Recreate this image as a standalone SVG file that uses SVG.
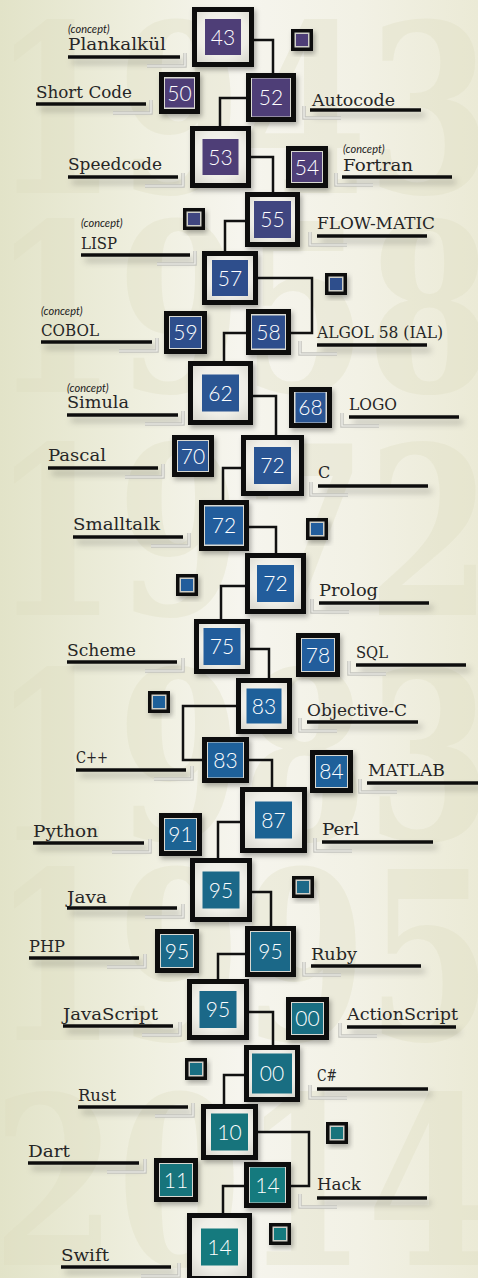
<svg xmlns="http://www.w3.org/2000/svg" width="478" height="1278" viewBox="0 0 478 1278">
<defs>
<linearGradient id="bg" x1="0" y1="0" x2="1" y2="0">
<stop offset="0" stop-color="#e2e3c8"/>
<stop offset="0.3" stop-color="#efefdf"/>
<stop offset="0.5" stop-color="#f6f5ee"/>
<stop offset="0.75" stop-color="#f2f1e5"/>
<stop offset="1" stop-color="#ebead6"/>
</linearGradient>
<radialGradient id="mat" cx="0.5" cy="0.45" r="0.7">
<stop offset="0" stop-color="#f8f7f2"/>
<stop offset="0.6" stop-color="#efeee7"/>
<stop offset="1" stop-color="#d6d5cc"/>
</radialGradient>
<filter id="nshadow" x="-30%" y="-30%" width="170%" height="170%">
<feDropShadow dx="2" dy="3" stdDeviation="2.5" flood-color="#000" flood-opacity="0.3"/>
</filter>
<filter id="lshadow" filterUnits="userSpaceOnUse" x="0" y="0" width="478" height="1278">
<feDropShadow dx="4" dy="5" stdDeviation="3" flood-color="#000" flood-opacity="0.28"/>
</filter>
<style>
.year{font-family:"DejaVu Serif",serif;font-weight:bold;font-size:235px;fill:#dddcbf;opacity:0.32}
.frame{fill:url(#mat);stroke:#0c0c0c;stroke-width:5;filter:url(#nshadow)}
.fframe{fill:#d9d9d2;stroke:#0c0c0c;stroke-width:5;filter:url(#nshadow)}
.tframe{fill:#cfcfc8;stroke:#0c0c0c;stroke-width:3.5;filter:url(#nshadow)}
.num{font-family:Lato,"Open Sans",sans-serif;font-weight:300;font-size:21px;fill:#ffffff;text-anchor:middle}
.lbl{font-family:"DejaVu Serif",serif;font-size:16px;fill:#262626}
.cpt{font-family:Lato,"Open Sans",sans-serif;font-style:italic;font-size:11px;fill:#1b1b1b}
.ul{fill:#0a0a0a;filter:url(#lshadow)}
.br{fill:none;stroke:#c4c4be;stroke-width:3.5}
.bri{fill:none;stroke:#f3f3ee;stroke-width:1.2}
.conn{fill:none;stroke:#111111;stroke-width:2.5}
.p1{fill:#4e3e77}.p2{fill:#404680}.b1{fill:#2e4e8c}.b2{fill:#2a5593}.b3{fill:#225d9c}.b4{fill:#1e609a}.b5{fill:#1c6393}.t1{fill:#1b6888}.t2{fill:#196e82}.t3{fill:#17747c}.t4{fill:#157a7e}
</style>
</defs>
<rect x="0" y="0" width="478" height="1278" fill="url(#bg)"/>
<g id="bg-years">
<text class="year" x="-8" y="193" textLength="500" lengthAdjust="spacingAndGlyphs">1943</text>
<text class="year" x="-8" y="392" textLength="500" lengthAdjust="spacingAndGlyphs">1958</text>
<text class="year" x="-8" y="615" textLength="500" lengthAdjust="spacingAndGlyphs">1972</text>
<text class="year" x="-8" y="840" textLength="500" lengthAdjust="spacingAndGlyphs">1983</text>
<text class="year" x="-8" y="1040" textLength="500" lengthAdjust="spacingAndGlyphs">1995</text>
<text class="year" x="-8" y="1265" textLength="500" lengthAdjust="spacingAndGlyphs">2014</text>
</g>
<g id="labels">
<g id="l-plankalkul"><text class="cpt" x="68" y="33">(concept)</text><text class="lbl" x="68" y="50" textLength="98" lengthAdjust="spacingAndGlyphs">Plankalkül</text><rect class="ul" x="68" y="55.25" width="112" height="3.5"/><path class="br" d="M185,53V66H147"/><path class="bri" d="M185,53V66H147"/></g>
<g id="l-shortcode"><text class="lbl" x="36" y="98" textLength="96" lengthAdjust="spacingAndGlyphs">Short Code</text><rect class="ul" x="36" y="102.25" width="110" height="3.5"/><path class="br" d="M151,100V113H113"/><path class="bri" d="M151,100V113H113"/></g>
<g id="l-speedcode"><text class="lbl" x="68" y="170" textLength="94" lengthAdjust="spacingAndGlyphs">Speedcode</text><rect class="ul" x="68" y="175.25" width="110" height="3.5"/><path class="br" d="M183,173V186H145"/><path class="bri" d="M183,173V186H145"/></g>
<g id="l-lisp"><text class="cpt" x="81" y="227">(concept)</text><text class="lbl" x="81" y="249" textLength="36" lengthAdjust="spacingAndGlyphs">LISP</text><rect class="ul" x="81" y="253.25" width="109" height="3.5"/><path class="br" d="M195,251V264H157"/><path class="bri" d="M195,251V264H157"/></g>
<g id="l-cobol"><text class="cpt" x="41" y="315">(concept)</text><text class="lbl" x="41" y="336" textLength="58" lengthAdjust="spacingAndGlyphs">COBOL</text><rect class="ul" x="41" y="340.25" width="111" height="3.5"/><path class="br" d="M157,338V351H119"/><path class="bri" d="M157,338V351H119"/></g>
<g id="l-simula"><text class="cpt" x="67" y="392">(concept)</text><text class="lbl" x="67" y="408" textLength="62" lengthAdjust="spacingAndGlyphs">Simula</text><rect class="ul" x="67" y="413.25" width="111" height="3.5"/><path class="br" d="M183,411V424H145"/><path class="bri" d="M183,411V424H145"/></g>
<g id="l-pascal"><text class="lbl" x="48" y="461" textLength="58" lengthAdjust="spacingAndGlyphs">Pascal</text><rect class="ul" x="48" y="466.25" width="110" height="3.5"/><path class="br" d="M163,464V477H125"/><path class="bri" d="M163,464V477H125"/></g>
<g id="l-smalltalk"><text class="lbl" x="73" y="530" textLength="87" lengthAdjust="spacingAndGlyphs">Smalltalk</text><rect class="ul" x="73" y="535.25" width="110" height="3.5"/><path class="br" d="M189,533V546H151"/><path class="bri" d="M189,533V546H151"/></g>
<g id="l-scheme"><text class="lbl" x="67" y="656" textLength="69" lengthAdjust="spacingAndGlyphs">Scheme</text><rect class="ul" x="67" y="660.25" width="110" height="3.5"/><path class="br" d="M183,658V671H145"/><path class="bri" d="M183,658V671H145"/></g>
<g id="l-cpp"><text class="lbl" x="76" y="763" textLength="32" lengthAdjust="spacingAndGlyphs">C++</text><rect class="ul" x="76" y="768.25" width="110" height="3.5"/><path class="br" d="M192,766V779H154"/><path class="bri" d="M192,766V779H154"/></g>
<g id="l-python"><text class="lbl" x="33" y="837" textLength="65" lengthAdjust="spacingAndGlyphs">Python</text><rect class="ul" x="33" y="841.25" width="111" height="3.5"/><path class="br" d="M150,839V852H112"/><path class="bri" d="M150,839V852H112"/></g>
<g id="l-java"><text class="lbl" x="67" y="903" textLength="40" lengthAdjust="spacingAndGlyphs">Java</text><rect class="ul" x="67" y="906.25" width="110" height="3.5"/><path class="br" d="M183,904V917H145"/><path class="bri" d="M183,904V917H145"/></g>
<g id="l-php"><text class="lbl" x="29" y="952" textLength="36" lengthAdjust="spacingAndGlyphs">PHP</text><rect class="ul" x="29" y="956.25" width="110" height="3.5"/><path class="br" d="M145,954V967H107"/><path class="bri" d="M145,954V967H107"/></g>
<g id="l-javascript"><text class="lbl" x="63" y="1020" textLength="95" lengthAdjust="spacingAndGlyphs">JavaScript</text><rect class="ul" x="63" y="1024.25" width="110" height="3.5"/><path class="br" d="M180,1022V1035H142"/><path class="bri" d="M180,1022V1035H142"/></g>
<g id="l-rust"><text class="lbl" x="78" y="1101" textLength="38" lengthAdjust="spacingAndGlyphs">Rust</text><rect class="ul" x="78" y="1105.25" width="110" height="3.5"/><path class="br" d="M193,1103V1116H155"/><path class="bri" d="M193,1103V1116H155"/></g>
<g id="l-dart"><text class="lbl" x="28" y="1157" textLength="42" lengthAdjust="spacingAndGlyphs">Dart</text><rect class="ul" x="28" y="1161.25" width="111" height="3.5"/><path class="br" d="M145,1159V1172H107"/><path class="bri" d="M145,1159V1172H107"/></g>
<g id="l-swift"><text class="lbl" x="61" y="1261" textLength="48" lengthAdjust="spacingAndGlyphs">Swift</text><rect class="ul" x="61" y="1265.25" width="110" height="3.5"/><path class="br" d="M179,1263V1276H141"/><path class="bri" d="M179,1263V1276H141"/></g>
<g id="l-autocode"><text class="lbl" x="312" y="106" textLength="83" lengthAdjust="spacingAndGlyphs">Autocode</text><rect class="ul" x="310" y="108.25" width="111" height="3.5"/><path class="br" d="M304,106V118H341"/><path class="bri" d="M304,106V118H341"/></g>
<g id="l-fortran"><text class="cpt" x="343" y="153">(concept)</text><text class="lbl" x="343" y="171" textLength="70" lengthAdjust="spacingAndGlyphs">Fortran</text><rect class="ul" x="342" y="175.25" width="110" height="3.5"/><path class="br" d="M336,173V185H373"/><path class="bri" d="M336,173V185H373"/></g>
<g id="l-flowmatic"><text class="lbl" x="317" y="229" textLength="118" lengthAdjust="spacingAndGlyphs">FLOW-MATIC</text><rect class="ul" x="317" y="234.25" width="110" height="3.5"/><path class="br" d="M310,232V245H347"/><path class="bri" d="M310,232V245H347"/></g>
<g id="l-algol"><text class="lbl" x="317" y="338" textLength="126" lengthAdjust="spacingAndGlyphs">ALGOL 58 (IAL)</text><rect class="ul" x="317" y="343.25" width="110" height="3.5"/><path class="br" d="M300,341V354H337"/><path class="bri" d="M300,341V354H337"/></g>
<g id="l-logo"><text class="lbl" x="349" y="410" textLength="48" lengthAdjust="spacingAndGlyphs">LOGO</text><rect class="ul" x="349" y="415.25" width="110" height="3.5"/><path class="br" d="M342,413V426H379"/><path class="bri" d="M342,413V426H379"/></g>
<g id="l-c"><text class="lbl" x="318" y="478">C</text><rect class="ul" x="318" y="484.25" width="110" height="3.5"/><path class="br" d="M311,482V495H348"/><path class="bri" d="M311,482V495H348"/></g>
<g id="l-prolog"><text class="lbl" x="319" y="596" textLength="59" lengthAdjust="spacingAndGlyphs">Prolog</text><rect class="ul" x="319" y="601.25" width="110" height="3.5"/><path class="br" d="M312,599V612H349"/><path class="bri" d="M312,599V612H349"/></g>
<g id="l-sql"><text class="lbl" x="356" y="658" textLength="32" lengthAdjust="spacingAndGlyphs">SQL</text><rect class="ul" x="356" y="663.25" width="110" height="3.5"/><path class="br" d="M349,661V674H386"/><path class="bri" d="M349,661V674H386"/></g>
<g id="l-objc"><text class="lbl" x="307" y="716" textLength="100" lengthAdjust="spacingAndGlyphs">Objective-C</text><rect class="ul" x="307" y="720.25" width="111" height="3.5"/><path class="br" d="M300,718V731H337"/><path class="bri" d="M300,718V731H337"/></g>
<g id="l-matlab"><text class="lbl" x="368" y="776" textLength="77" lengthAdjust="spacingAndGlyphs">MATLAB</text><rect class="ul" x="367" y="781.25" width="111" height="3.5"/><path class="br" d="M360,779V792H397"/><path class="bri" d="M360,779V792H397"/></g>
<g id="l-perl"><text class="lbl" x="322" y="835" textLength="37" lengthAdjust="spacingAndGlyphs">Perl</text><rect class="ul" x="322" y="840.25" width="111" height="3.5"/><path class="br" d="M315,838V851H352"/><path class="bri" d="M315,838V851H352"/></g>
<g id="l-ruby"><text class="lbl" x="311" y="960" textLength="46" lengthAdjust="spacingAndGlyphs">Ruby</text><rect class="ul" x="311" y="964.25" width="110" height="3.5"/><path class="br" d="M304,962V975H341"/><path class="bri" d="M304,962V975H341"/></g>
<g id="l-actionscript"><text class="lbl" x="347" y="1020" textLength="111" lengthAdjust="spacingAndGlyphs">ActionScript</text><rect class="ul" x="347" y="1025.25" width="109" height="3.5"/><path class="br" d="M340,1023V1036H377"/><path class="bri" d="M340,1023V1036H377"/></g>
<g id="l-csharp"><text class="lbl" x="317" y="1081" textLength="20" lengthAdjust="spacingAndGlyphs">C#</text><rect class="ul" x="317" y="1087.25" width="111" height="3.5"/><path class="br" d="M310,1085V1098H347"/><path class="bri" d="M310,1085V1098H347"/></g>
<g id="l-hack"><text class="lbl" x="317" y="1190" textLength="44" lengthAdjust="spacingAndGlyphs">Hack</text><rect class="ul" x="317" y="1196.25" width="110" height="3.5"/><path class="br" d="M300,1194V1207H337"/><path class="bri" d="M300,1194V1207H337"/></g>
</g>
<g id="connectors">
<polyline class="conn" points="254,40 273,40 273,73"/>
<polyline class="conn" points="246,98 220,98 220,126"/>
<polyline class="conn" points="251,157 273,157 273,192"/>
<polyline class="conn" points="245,221 225,221 225,251"/>
<polyline class="conn" points="258,278 312,278 312,333 291,333"/>
<polyline class="conn" points="246,333 224,333 224,361"/>
<polyline class="conn" points="253,396 276,396 276,435"/>
<polyline class="conn" points="241,468 223,468 223,500"/>
<polyline class="conn" points="249,527 276,527 276,553"/>
<polyline class="conn" points="245,586 221,586 221,619"/>
<polyline class="conn" points="250,649 269,649 269,678"/>
<polyline class="conn" points="236,706 183,706 183,760 202,760"/>
<polyline class="conn" points="249,760 272,760 272,787"/>
<polyline class="conn" points="240,822 218,822 218,858"/>
<polyline class="conn" points="252,892 271,892 271,926"/>
<polyline class="conn" points="245,954 218,954 218,979"/>
<polyline class="conn" points="249,1012 273,1012 273,1045"/>
<polyline class="conn" points="244,1075 224,1075 224,1104"/>
<polyline class="conn" points="258,1132 309,1132 309,1186 291,1186"/>
<polyline class="conn" points="244,1186 223,1186 223,1213"/>
</g>
<g id="n43"><rect class="frame" x="194.5" y="9.5" width="57" height="55"/><rect class="p1" x="205" y="19" width="36" height="36"/><text class="num" x="223" y="44.5">43</text></g>
<g id="n50"><rect class="fframe" x="161.5" y="74.5" width="36" height="37"/><rect class="p1" x="165" y="78.5" width="29" height="29"/><text class="num" x="179.5" y="100.5">50</text></g>
<g id="n52"><rect class="fframe" x="248.5" y="75.5" width="45" height="44"/><rect class="p1" x="252" y="78.5" width="38" height="38"/><text class="num" x="271" y="105">52</text></g>
<g id="n53"><rect class="frame" x="192.5" y="128.5" width="56" height="57"/><rect class="p1" x="202.5" y="139" width="36" height="36"/><text class="num" x="220.5" y="164.5">53</text></g>
<g id="n54"><rect class="fframe" x="288.5" y="148.5" width="37" height="37"/><rect class="p1" x="292" y="152" width="30" height="30"/><text class="num" x="307" y="174.5">54</text></g>
<g id="n55"><rect class="frame" x="247.5" y="194.5" width="50" height="50"/><rect class="p2" x="254" y="201" width="37" height="37"/><text class="num" x="272.5" y="227">55</text></g>
<g id="n57"><rect class="frame" x="204.5" y="253.5" width="51" height="49"/><rect class="b1" x="212" y="260" width="36" height="36"/><text class="num" x="230" y="285.5">57</text></g>
<g id="n58"><rect class="fframe" x="248.5" y="311.5" width="40" height="41"/><rect class="b1" x="252" y="315.5" width="33" height="33"/><text class="num" x="268.5" y="339.5">58</text></g>
<g id="n59"><rect class="fframe" x="166.5" y="313.5" width="38" height="38"/><rect class="b1" x="170" y="317" width="31" height="31"/><text class="num" x="185.5" y="340">59</text></g>
<g id="n62"><rect class="frame" x="190.5" y="363.5" width="60" height="59"/><rect class="b2" x="202" y="374.5" width="37" height="37"/><text class="num" x="220.5" y="400.5">62</text></g>
<g id="n68"><rect class="fframe" x="291.5" y="389.5" width="38" height="36"/><rect class="b2" x="295.5" y="392.5" width="30" height="30"/><text class="num" x="310.5" y="415">68</text></g>
<g id="n70"><rect class="fframe" x="174.5" y="437.5" width="37" height="37"/><rect class="b2" x="178" y="441" width="30" height="30"/><text class="num" x="193" y="463.5">70</text></g>
<g id="n72-c"><rect class="frame" x="243.5" y="437.5" width="58" height="56"/><rect class="b2" x="254" y="447" width="37" height="37"/><text class="num" x="272.5" y="473">72</text></g>
<g id="n72-smalltalk"><rect class="fframe" x="201.5" y="502.5" width="45" height="46"/><rect class="b3" x="205" y="506.5" width="38" height="38"/><text class="num" x="224" y="533">72</text></g>
<g id="n72-prolog"><rect class="frame" x="247.5" y="555.5" width="56" height="56"/><rect class="b3" x="257" y="565" width="37" height="37"/><text class="num" x="275.5" y="591">72</text></g>
<g id="n75"><rect class="frame" x="196.5" y="621.5" width="51" height="50"/><rect class="b3" x="203.5" y="628" width="37" height="37"/><text class="num" x="222" y="654">75</text></g>
<g id="n78"><rect class="fframe" x="298.5" y="635.5" width="39" height="39"/><rect class="b3" x="302" y="639" width="32" height="32"/><text class="num" x="318" y="662.5">78</text></g>
<g id="n83-objc"><rect class="frame" x="238.5" y="680.5" width="51" height="51"/><rect class="b4" x="246.5" y="688.5" width="35" height="35"/><text class="num" x="264" y="713.5">83</text></g>
<g id="n83-cpp"><rect class="fframe" x="204.5" y="739.5" width="42" height="41"/><rect class="b4" x="208" y="742.5" width="35" height="35"/><text class="num" x="225.5" y="767.5">83</text></g>
<g id="n84"><rect class="fframe" x="312.5" y="752.5" width="38" height="38"/><rect class="b4" x="316" y="756" width="31" height="31"/><text class="num" x="331.5" y="779">84</text></g>
<g id="n87"><rect class="frame" x="242.5" y="789.5" width="62" height="61"/><rect class="b5" x="255" y="801.5" width="37" height="37"/><text class="num" x="273.5" y="827.5">87</text></g>
<g id="n91"><rect class="fframe" x="161.5" y="815.5" width="38" height="38"/><rect class="b5" x="165" y="819" width="31" height="31"/><text class="num" x="180.5" y="842">91</text></g>
<g id="n95-java"><rect class="frame" x="192.5" y="860.5" width="57" height="59"/><rect class="t1" x="202.5" y="871.5" width="37" height="37"/><text class="num" x="221" y="897.5">95</text></g>
<g id="n95-php"><rect class="fframe" x="157.5" y="931.5" width="39" height="39"/><rect class="t1" x="161" y="935" width="32" height="32"/><text class="num" x="177" y="958.5">95</text></g>
<g id="n95-ruby"><rect class="fframe" x="247.5" y="928.5" width="46" height="46"/><rect class="t1" x="251" y="932" width="39" height="39"/><text class="num" x="270.5" y="959">95</text></g>
<g id="n95-javascript"><rect class="frame" x="189.5" y="981.5" width="57" height="56"/><rect class="t1" x="199.5" y="991" width="37" height="37"/><text class="num" x="218" y="1017">95</text></g>
<g id="n00-actionscript"><rect class="fframe" x="288.5" y="999.5" width="38" height="38"/><rect class="t2" x="292" y="1003" width="31" height="31"/><text class="num" x="307.5" y="1026">00</text></g>
<g id="n00-csharp"><rect class="frame" x="246.5" y="1047.5" width="51" height="52"/><rect class="t2" x="252" y="1053.5" width="40" height="40"/><text class="num" x="272" y="1081">00</text></g>
<g id="n10"><rect class="frame" x="203.5" y="1106.5" width="52" height="51"/><rect class="t3" x="211" y="1113.5" width="37" height="37"/><text class="num" x="229.5" y="1139.5">10</text></g>
<g id="n11"><rect class="fframe" x="156.5" y="1160.5" width="39" height="39"/><rect class="t3" x="160" y="1164" width="32" height="32"/><text class="num" x="176" y="1187.5">11</text></g>
<g id="n14-hack"><rect class="fframe" x="246.5" y="1164.5" width="42" height="41"/><rect class="t4" x="250" y="1167.5" width="35" height="35"/><text class="num" x="267.5" y="1192.5">14</text></g>
<g id="n14-swift"><rect class="frame" x="189.5" y="1215.5" width="60" height="63"/><rect class="t4" x="201" y="1228.5" width="37" height="37"/><text class="num" x="219.5" y="1254.5">14</text></g>
<g id="sq1"><rect class="tframe" x="292.75" y="30.75" width="18.5" height="18.5"/><rect class="p1" x="296" y="34" width="12" height="12"/></g>
<g id="sq2"><rect class="tframe" x="184.75" y="209.75" width="18.5" height="18.5"/><rect class="p2" x="188" y="213" width="12" height="12"/></g>
<g id="sq3"><rect class="tframe" x="326.75" y="274.75" width="18.5" height="18.5"/><rect class="b1" x="330" y="278" width="12" height="12"/></g>
<g id="sq4"><rect class="tframe" x="307.75" y="519.75" width="18.5" height="18.5"/><rect class="b3" x="311" y="523" width="12" height="12"/></g>
<g id="sq5"><rect class="tframe" x="177.75" y="575.75" width="18.5" height="18.5"/><rect class="b3" x="181" y="579" width="12" height="12"/></g>
<g id="sq6"><rect class="tframe" x="149.75" y="692.75" width="18.5" height="18.5"/><rect class="b4" x="153" y="696" width="12" height="12"/></g>
<g id="sq7"><rect class="tframe" x="293.75" y="877.75" width="18.5" height="18.5"/><rect class="t1" x="297" y="881" width="12" height="12"/></g>
<g id="sq8"><rect class="tframe" x="186.75" y="1059.75" width="18.5" height="18.5"/><rect class="t2" x="190" y="1063" width="12" height="12"/></g>
<g id="sq9"><rect class="tframe" x="327.75" y="1123.75" width="18.5" height="18.5"/><rect class="t3" x="331" y="1127" width="12" height="12"/></g>
<g id="sq10"><rect class="tframe" x="270.75" y="1224.75" width="18.5" height="18.5"/><rect class="t4" x="274" y="1228" width="12" height="12"/></g>
</svg>
